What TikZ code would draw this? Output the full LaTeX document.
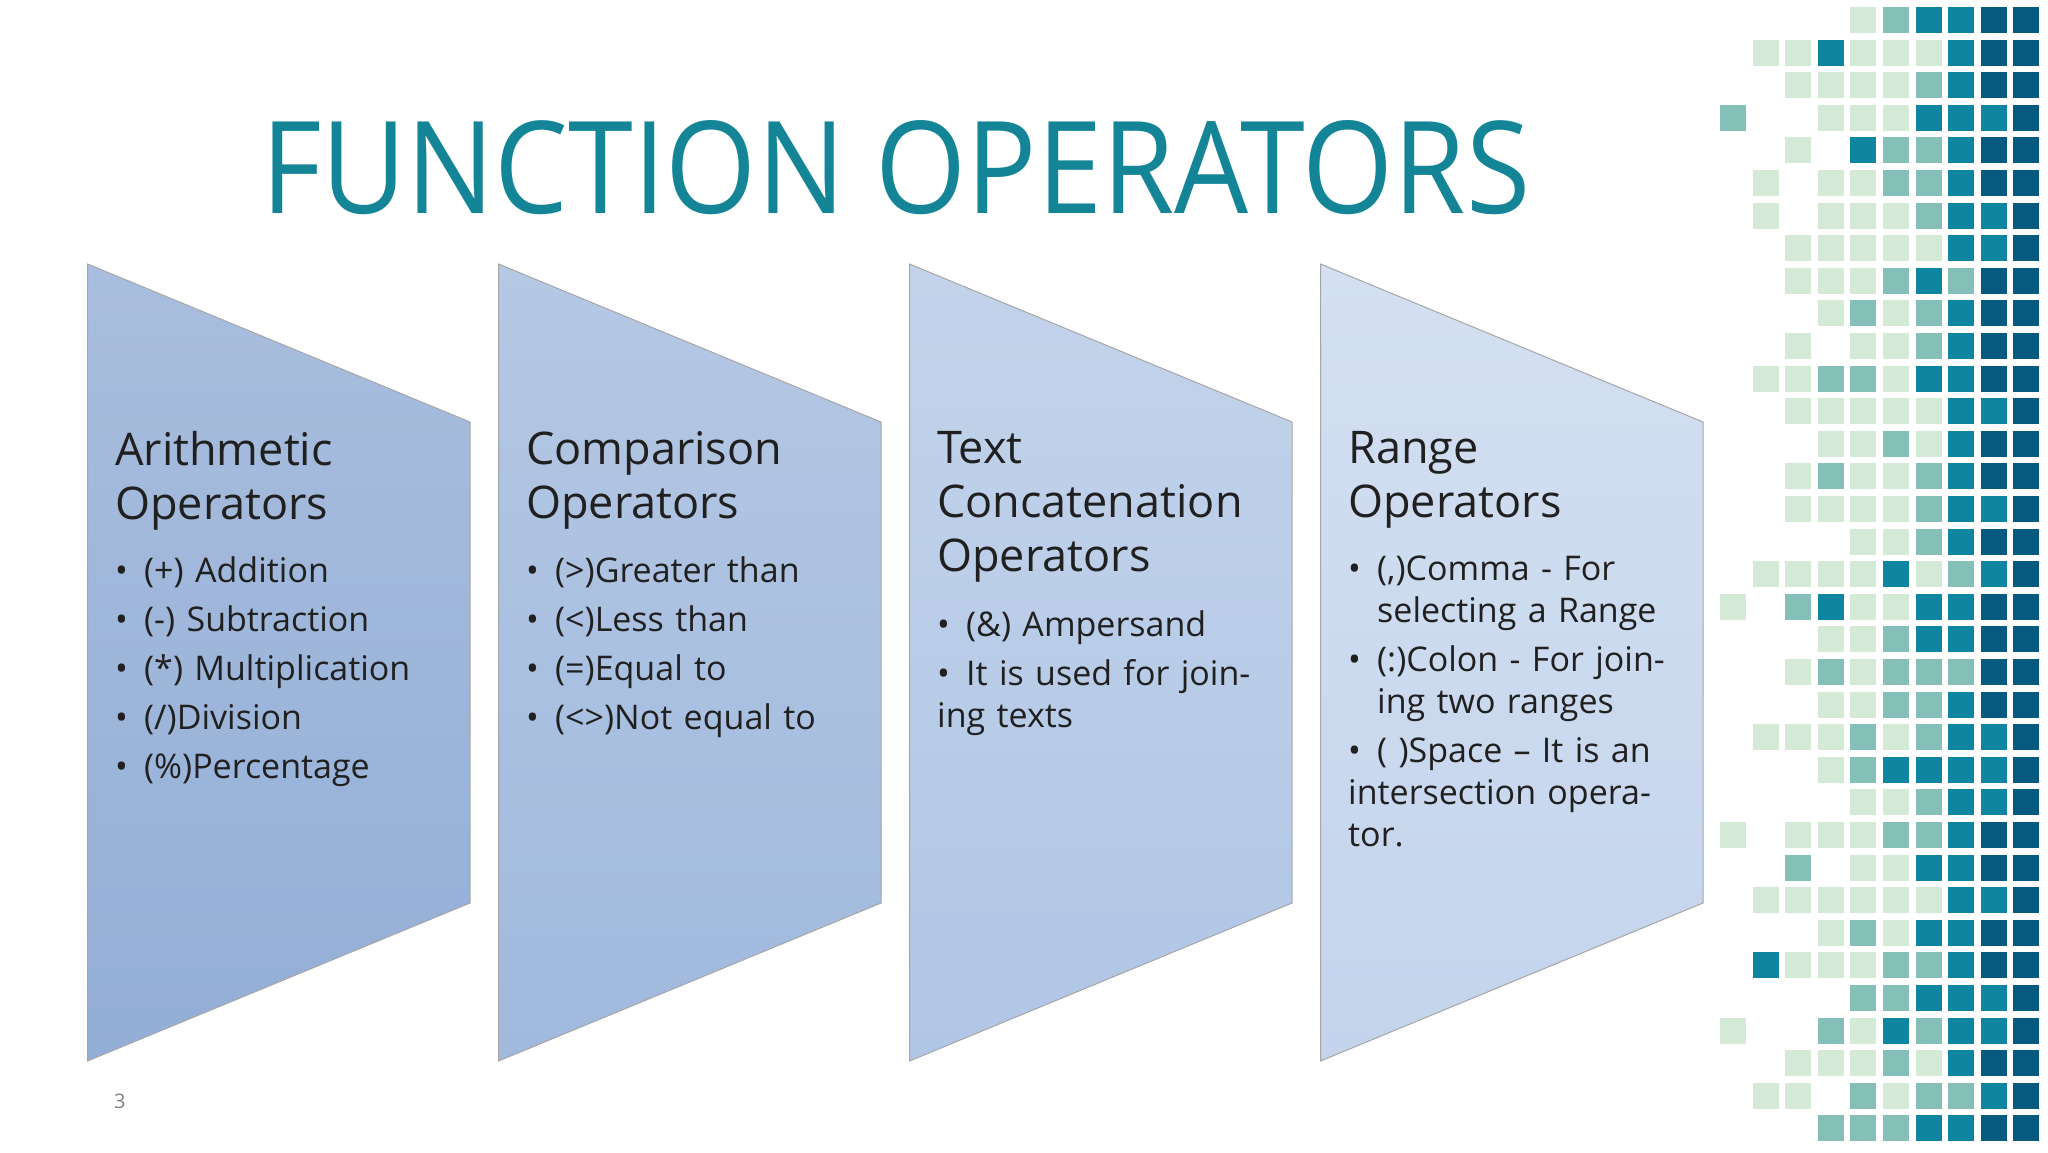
\documentclass[tikz,border=0pt]{standalone}
\usepackage{fontspec}
\setmainfont{Open Sans}
\usepackage{graphicx}
\definecolor{N}{HTML}{FFFFFF}
\definecolor{L}{HTML}{D4EAD7}
\definecolor{M}{HTML}{84C0B7}
\definecolor{T}{HTML}{0E86A2}
\definecolor{D}{HTML}{065A80}
\definecolor{titlec}{HTML}{138597}
\definecolor{txt}{HTML}{202020}
\newcommand\bul[1]{\par\vspace{7pt}\noindent\hangindent=29pt\hangafter=1\makebox[29pt][l]{\textbullet}#1}
\tikzset{
  panel/.style={draw=black!35, line width=1pt},
  head/.style={anchor=north west, inner sep=0pt, text width=360pt, align=left, text=txt, font=\fontsize{45}{54}\selectfont},
  items/.style={anchor=north west, inner sep=0pt, text width=350pt, align=left, text=txt, font=\fontsize{34}{42}\selectfont},
}
\begin{document}
\begin{tikzpicture}[x=1pt,y=-1pt]
\useasboundingbox[fill=white] (0,0) rectangle (2048,1152);
% mosaic
\foreach \r/\s in {
0/{N,N,N,N,L,M,T,T,D,D},
1/{N,L,L,T,L,L,L,T,D,D},
2/{N,N,L,L,L,L,M,T,D,D},
3/{M,N,N,L,L,L,T,T,T,D},
4/{N,N,L,N,T,M,M,T,D,D},
5/{N,L,N,L,L,M,M,T,D,D},
6/{N,L,N,L,L,L,M,T,T,D},
7/{N,N,L,L,L,L,L,T,T,D},
8/{N,N,L,L,L,M,T,M,D,D},
9/{N,N,N,L,M,L,M,T,D,D},
10/{N,N,L,N,L,L,M,T,D,D},
11/{N,L,L,M,M,L,T,T,D,D},
12/{N,N,L,L,L,L,L,T,T,D},
13/{N,N,N,L,L,M,L,T,D,D},
14/{N,N,L,M,L,L,M,T,D,D},
15/{N,N,L,L,L,L,M,T,T,D},
16/{N,N,N,N,L,L,M,T,D,D},
17/{N,L,L,L,L,T,L,M,T,D},
18/{L,N,M,T,L,L,T,T,D,D},
19/{N,N,N,L,L,M,T,T,D,D},
20/{N,N,L,M,L,M,M,M,D,D},
21/{N,N,N,L,L,M,M,T,D,D},
22/{N,L,L,L,M,L,M,T,T,D},
23/{N,N,N,L,M,T,T,T,T,D},
24/{N,N,N,N,L,L,M,T,T,D},
25/{L,N,L,L,L,M,M,T,D,D},
26/{N,N,M,N,L,L,T,T,D,D},
27/{N,L,L,L,L,L,L,T,T,D},
28/{N,N,N,L,M,L,T,T,D,D},
29/{N,T,L,L,L,M,M,T,D,D},
30/{N,N,N,N,M,M,T,T,T,D},
31/{L,N,N,M,L,T,M,T,T,D},
32/{N,N,L,L,L,M,L,T,D,D},
33/{N,L,L,N,M,L,M,M,T,D},
34/{N,N,N,M,M,M,T,T,D,D}}{
  \foreach \c [count=\i from 0] in \s {
    \fill[\c] ({1720+32.6*\i},{7+32.6*\r}) rectangle ++(26,26);
  }
}
% title
\node[anchor=base west, inner sep=0pt, text=titlec] (title) at (261,213) {\resizebox{1269pt}{93pt}{FUNCTION OPERATORS}};
% panels
\foreach \k/\tc/\bc in {0/A9BEDE/93AED6, 1/B5C8E4/A0B9DD, 2/C3D3EA/B0C6E5, 3/D4E0F1/C3D4EC}{
  \definecolor{tcol}{HTML}{\tc}\definecolor{bcol}{HTML}{\bc}
  \draw[panel, top color=tcol, bottom color=bcol] ({87.5+411*\k},264) -- ({470+411*\k},422) -- ({470+411*\k},903) -- ({87.5+411*\k},1061) -- cycle;
}
\node[head] (h1) at (115,431) {Arithmetic\\Operators};
\node[items] (b1) at (115,556) {\noindent\hangindent=29pt\hangafter=1\makebox[29pt][l]{\textbullet}(+) Addition\bul{(-) Subtraction}\bul{(*) Multiplication}\bul{(/)Division}\bul{(\%)Percentage}};
\node[head] (h2) at (526,431) {Comparison\\Operators};
\node[items] (b2) at (526,556) {\noindent\hangindent=29pt\hangafter=1\makebox[29pt][l]{\textbullet}(>)Greater than\bul{(<)Less than}\bul{(=)Equal to}\bul{(<>)Not equal to}};
\node[head] (h3) at (937,431) {Text\\Concatenation\\Operators};
\node[items] (b3) at (937,610) {\noindent\hangindent=29pt\hangafter=1\makebox[29pt][l]{\textbullet}(\&) Ampersand\bul{It is used for joining texts}};
\node[head] (h4) at (1348,431) {Range\\Operators};
\node[items, text width=330pt] (b4) at (1348,556) {\noindent\hangindent=29pt\hangafter=1\makebox[29pt][l]{\textbullet}(,)Comma - For selecting a Range\bul{(:)Colon - For joining two ranges}\bul{( )Space – It is an intersection operator.}};
\node[anchor=base west, inner sep=0pt, text=black!50, font=\fontsize{20}{24}\selectfont] (pg) at (114,1108) {3};
\end{tikzpicture}
\end{document}
